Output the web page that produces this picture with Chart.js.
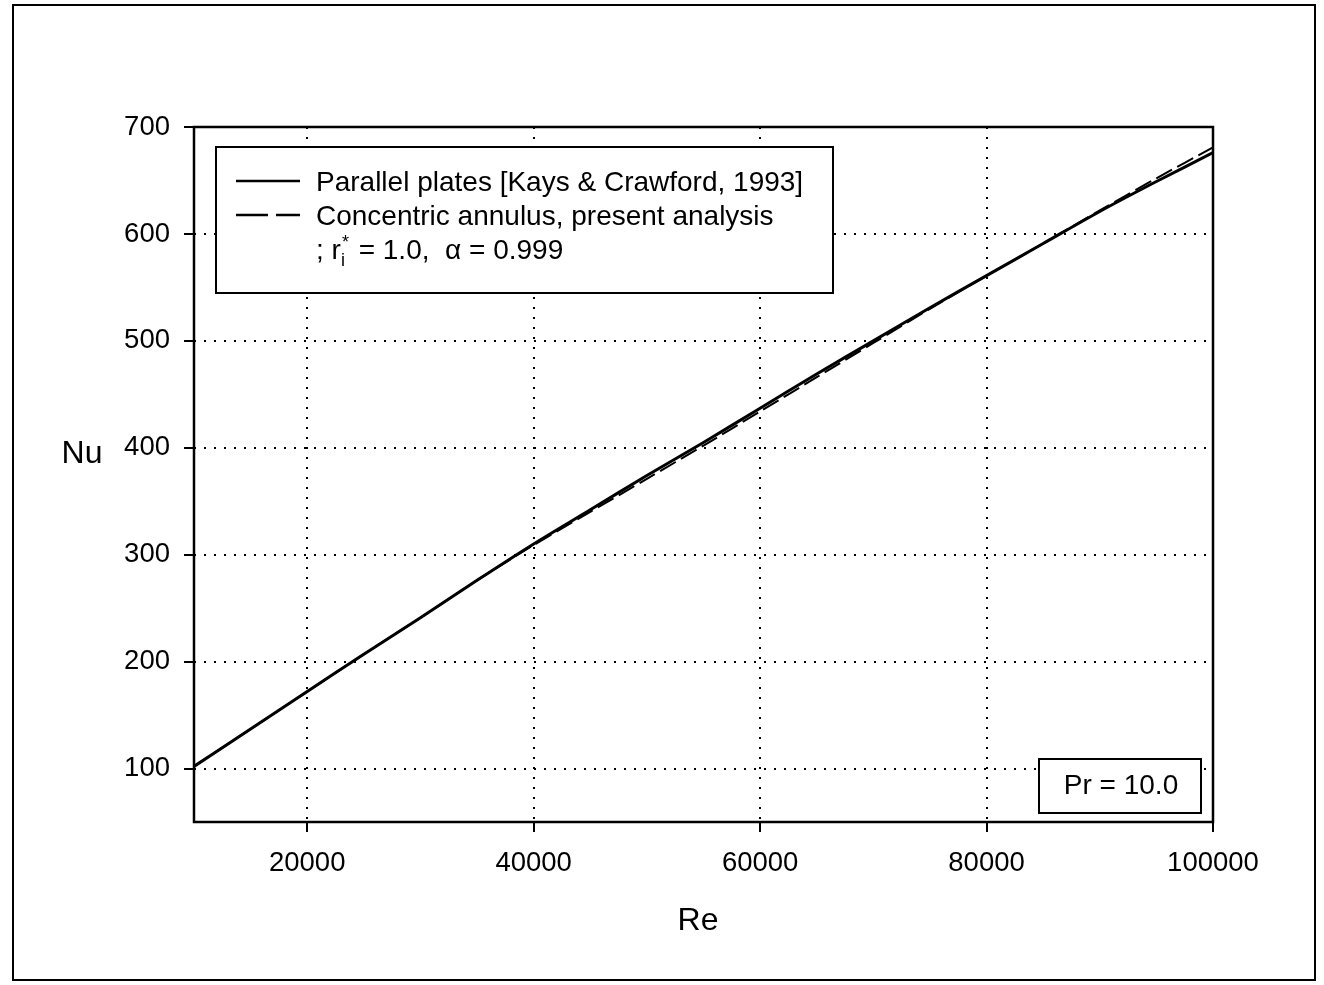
<!DOCTYPE html>
<html>
<head>
<meta charset="utf-8">
<script src="https://cdn.jsdelivr.net/npm/chart.js@4/dist/chart.umd.min.js"></script>
<style>
  html, body { margin: 0; padding: 0; background: #fff; }
  #wrap { width: 1324px; height: 985px; position: relative; }
</style>
</head>
<body>
<div id="wrap"><canvas id="nuChart" width="1324" height="985"></canvas></div>
<script>
// data
const reValues = [10000, 15000, 20000, 25000, 30000, 35000, 40000, 45000, 50000, 55000,
                  60000, 65000, 70000, 75000, 80000, 85000, 90000, 95000, 100000];
const nuPlates = [102, 137, 172, 207, 241, 276, 310, 342, 374, 405,
                  437, 469, 500, 531, 561, 591, 621, 649, 676];
const nuAnnulus = [102, 137, 172, 207, 241, 276, 309, 340, 371, 402,
                   434, 466, 498, 530, 561, 591, 622, 652, 681];
const xTicks = [20000, 40000, 60000, 80000, 100000];
const yTicks = [100, 200, 300, 400, 500, 600, 700];

const FONT = '"Liberation Sans", Arial, sans-serif';

const toPoints = (xs, ys) => xs.map((x, i) => ({ x: x, y: ys[i] }));

// frame, legend box, Pr box and axis titles
const decorations = {
  id: 'decorations',
  afterDraw(chart) {
    const ctx = chart.ctx;
    const a = chart.chartArea;
    ctx.save();
    ctx.strokeStyle = '#000';
    ctx.fillStyle = '#000';

    // outer frame
    ctx.lineWidth = 2;
    ctx.strokeRect(13, 5, 1302, 975);

    // plot box
    ctx.lineWidth = 2.5;
    ctx.strokeRect(a.left, a.top, a.right - a.left, a.bottom - a.top);

    // axis titles
    ctx.font = '32px ' + FONT;
    ctx.textBaseline = 'middle';
    ctx.textAlign = 'center';
    ctx.fillText('Nu', 82, 454);
    ctx.fillText('Re', 698, 921);

    // legend
    ctx.fillStyle = '#fff';
    ctx.fillRect(216, 147, 617, 146);
    ctx.lineWidth = 2;
    ctx.strokeRect(216, 147, 617, 146);
    ctx.fillStyle = '#000';
    ctx.lineWidth = 2.5;
    ctx.beginPath();
    ctx.moveTo(236, 181); ctx.lineTo(300, 181);
    ctx.stroke();
    ctx.beginPath();
    ctx.moveTo(236, 215); ctx.lineTo(268, 215);
    ctx.moveTo(276, 215); ctx.lineTo(300, 215);
    ctx.stroke();

    ctx.font = '28px ' + FONT;
    ctx.textAlign = 'left';
    ctx.textBaseline = 'alphabetic';
    ctx.fillText('Parallel plates [Kays & Crawford, 1993]', 316, 191);
    ctx.fillText('Concentric annulus, present analysis', 316, 225);
    let x = 316;
    const base = 259;
    ctx.fillText('; r', x, base);
    x += ctx.measureText('; r').width;
    ctx.font = '18px ' + FONT;
    ctx.fillText('i', x, base + 7);
    ctx.fillText('*', x + 1, base - 11);
    x += ctx.measureText('*').width + 3;
    ctx.font = '28px ' + FONT;
    ctx.fillText(' = 1.0,  \u03b1 = 0.999', x, base);

    // Pr box
    ctx.lineWidth = 2;
    ctx.fillStyle = '#fff';
    ctx.fillRect(1039, 759, 162, 54);
    ctx.strokeRect(1039, 759, 162, 54);
    ctx.fillStyle = '#000';
    ctx.font = '28px ' + FONT;
    ctx.textAlign = 'center';
    ctx.textBaseline = 'middle';
    ctx.fillText('Pr = 10.0', 1121, 786);
    ctx.restore();
  }
};

const ctx = document.getElementById('nuChart').getContext('2d');
new Chart(ctx, {
  type: 'scatter',
  data: {
    datasets: [{
      label: 'Parallel plates [Kays & Crawford, 1993]',
      data: toPoints(reValues, nuPlates),
      showLine: true,
      borderColor: '#000',
      borderWidth: 3,
      pointRadius: 0,
      tension: 0.3
    }, {
      label: 'Concentric annulus, present analysis',
      data: toPoints(reValues, nuAnnulus),
      showLine: true,
      borderColor: '#000',
      borderWidth: 2,
      borderDash: [18, 6],
      pointRadius: 0,
      tension: 0.3
    }]
  },
  options: {
    responsive: false,
    animation: false,
    layout: { padding: { left: 0, top: 127, right: 111, bottom: 0 } },
    plugins: {
      legend: { display: false },
      tooltip: { enabled: false }
    },
    scales: {
      x: {
        type: 'linear',
        min: 10000,
        max: 100000,
        afterBuildTicks: (scale) => { scale.ticks = xTicks.map(v => ({ value: v })); },
        afterFit: (scale) => { scale.height = 163; },
        border: { display: false, dash: [2, 8] },
        grid: {
          color: '#000',
          lineWidth: 2,
          tickLength: 10,
          tickColor: '#000',
          tickWidth: 2,
          tickBorderDash: []
        },
        ticks: {
          color: '#000',
          font: { family: FONT, size: 27.5 },
          padding: 15,
          maxRotation: 0,
          callback: (v) => String(v)
        }
      },
      y: {
        type: 'linear',
        min: 50,
        max: 700,
        afterBuildTicks: (scale) => { scale.ticks = yTicks.map(v => ({ value: v })); },
        afterFit: (scale) => { scale.width = 194; },
        border: { display: false, dash: [2, 8] },
        grid: {
          color: '#000',
          lineWidth: 2,
          tickLength: 10,
          tickColor: '#000',
          tickWidth: 2,
          tickBorderDash: []
        },
        ticks: {
          color: '#000',
          font: { family: FONT, size: 27.5 },
          padding: 14,
          callback: (v) => String(v)
        }
      }
    }
  },
  plugins: [decorations]
});
</script>
</body>
</html>
